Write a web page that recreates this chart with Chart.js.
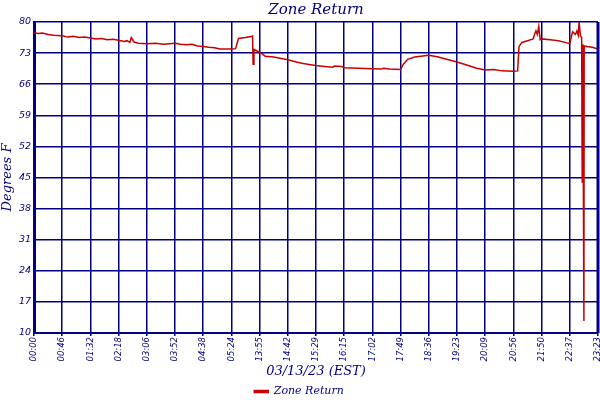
<!DOCTYPE html>
<html>
<head>
<meta charset="utf-8">
<script src="https://cdn.jsdelivr.net/npm/chart.js@4/dist/chart.umd.min.js"></script>
<style>
  html, body { margin: 0; padding: 0; background: #fff; }
  #wrap { width: 600px; height: 400px; }
</style>
</head>
<body>
<div id="wrap"><canvas id="chart"></canvas></div>
<script>
// метки времени под вертикальными линиями сетки
const timeLabels = ['00:00', '00:46', '01:32', '02:18', '03:06', '03:52', '04:38', '05:24', '13:55', '14:42',
  '15:29', '16:15', '17:02', '17:49', '18:36', '19:23', '20:09', '20:56', '21:50', '22:37', '23:23'];

const yTicks = [10, 17, 24, 31, 38, 45, 52, 59, 66, 73, 80];

// положение отсчёта в делениях сетки (0..20) и температура
const sampleX = [0, 0.15, 0.3, 0.5, 0.7, 1.0, 1.2, 1.4, 1.6, 1.8, 2.0, 2.2, 2.4, 2.6, 2.8, 3.0, 3.2, 3.3, 3.4, 3.45,
  3.55, 3.7, 4.0, 4.3, 4.6, 5.0, 5.2, 5.4, 5.6, 5.8, 6.0, 6.2, 6.4, 6.6, 7.0, 7.15, 7.25, 7.5, 7.75, 7.77,
  7.8, 8.0, 8.2, 8.5, 9.0, 9.3, 9.5, 9.8, 10.0, 10.3, 10.6, 10.65, 10.9, 11.0, 11.5, 12.0, 12.3, 12.4, 12.6, 13.0,
  13.1, 13.25, 13.5, 14.0, 14.3, 14.7, 15.0, 15.4, 15.7, 16.0, 16.3, 16.6, 17.0, 17.15, 17.2, 17.3, 17.5, 17.7, 17.75, 17.8,
  17.85, 17.9, 17.95, 18.0, 18.3, 18.6, 18.9, 19.0, 19.05, 19.1, 19.2, 19.25, 19.3, 19.33, 19.38, 19.42, 19.44, 19.46, 19.48, 19.50,
  19.51, 19.6, 19.8, 20.0];
const zoneReturn = [77.6, 77.4, 77.5, 77.2, 77.0, 76.9, 76.6, 76.8, 76.5, 76.6, 76.4, 76.2, 76.3, 76.0, 76.1, 75.9, 75.6, 75.8, 75.4, 76.5,
  75.5, 75.2, 75.1, 75.2, 75.0, 75.2, 75.0, 74.9, 75.0, 74.6, 74.5, 74.3, 74.2, 73.9, 73.9, 74.0, 76.3, 76.5, 76.8, 70.5,
  73.8, 73.2, 72.3, 72.1, 71.5, 71.0, 70.7, 70.4, 70.2, 70.0, 69.8, 70.1, 70.0, 69.7, 69.6, 69.5, 69.4, 69.6, 69.4, 69.3,
  70.5, 71.6, 72.1, 72.5, 72.2, 71.5, 71.0, 70.2, 69.6, 69.2, 69.3, 69.0, 68.9, 69.0, 74.5, 75.4, 75.8, 76.2, 77.2, 78.0,
  77.2, 79.0, 76.0, 76.2, 76.0, 75.8, 75.3, 75.1, 76.5, 77.8, 77.2, 78.0, 77.0, 80.0, 76.8, 76.5, 44.0, 75.0, 44.0, 12.7,
  74.6, 74.5, 74.3, 73.9];

const NAVY = '#000080';
const RED = '#c80000';

const ctx = document.getElementById('chart');
new Chart(ctx, {
  type: 'line',
  data: {
    datasets: [{
      label: 'Zone Return',
      data: sampleX.map((x, i) => ({ x, y: zoneReturn[i] })),
      borderColor: RED,
      backgroundColor: RED,
      borderWidth: 1.5,
      pointRadius: 0,
      tension: 0,
    }],
  },
  options: {
    responsive: true,
    maintainAspectRatio: false,
    animation: false,
    layout: { padding: { left: 0, right: 2, top: 0, bottom: 0 } },
    scales: {
      x: {
        type: 'linear',
        min: 0,
        max: 20,
        afterBuildTicks: s => { s.ticks = timeLabels.map((_, i) => ({ value: i })); },
        afterFit: s => { s.height = 52; s.paddingLeft = 0; s.paddingRight = 0; },
        ticks: {
          color: NAVY,
          font: { family: 'DejaVu Sans', style: 'italic', size: 8.5 },
          minRotation: 90,
          maxRotation: 90,
          autoSkip: false,
          padding: 1,
          callback: v => timeLabels[v],
        },
        grid: { color: NAVY, lineWidth: 1.5, tickLength: 3 },
        border: { color: NAVY, width: 2 },
        title: {
          display: true,
          text: '03/13/23 (EST)',
          color: NAVY,
          font: { family: 'DejaVu Serif', style: 'italic', size: 13 },
          padding: { top: 0, bottom: 6 },
        },
      },
      y: {
        min: 10,
        max: 80,
        afterBuildTicks: s => { s.ticks = yTicks.map(v => ({ value: v })); },
        afterFit: s => { s.width = 34; },
        ticks: {
          color: NAVY,
          font: { family: 'DejaVu Sans', style: 'italic', size: 9.5 },
          padding: 3,
        },
        grid: { color: NAVY, lineWidth: 1.5, drawTicks: false },
        border: { color: NAVY, width: 3 },
        title: {
          display: true,
          text: 'Degrees F',
          color: NAVY,
          font: { family: 'DejaVu Serif', style: 'italic', size: 13 },
          padding: 0,
        },
      },
    },
    plugins: {
      title: {
        display: true,
        text: 'Zone Return',
        color: NAVY,
        fullSize: false,
        font: { family: 'DejaVu Serif', style: 'italic', weight: 'normal', size: 15 },
        padding: { top: 1, bottom: 3 },
      },
      legend: {
        position: 'bottom',
        maxHeight: 15,
        labels: {
          color: NAVY,
          font: { family: 'DejaVu Serif', style: 'italic', size: 11 },
          boxWidth: 14,
          boxHeight: 2,
          padding: 1,
        },
      },
      tooltip: { enabled: false },
    },
  },
  plugins: [{
    // правая рамка области графика
    id: 'rightEdge',
    afterDraw(chart) {
      const { ctx: c, chartArea: a } = chart;
      c.save();
      c.strokeStyle = NAVY;
      c.lineWidth = 3;
      c.beginPath();
      c.moveTo(a.right, a.top);
      c.lineTo(a.right, a.bottom);
      c.stroke();
      c.restore();
    },
  }],
});
</script>
</body>
</html>
